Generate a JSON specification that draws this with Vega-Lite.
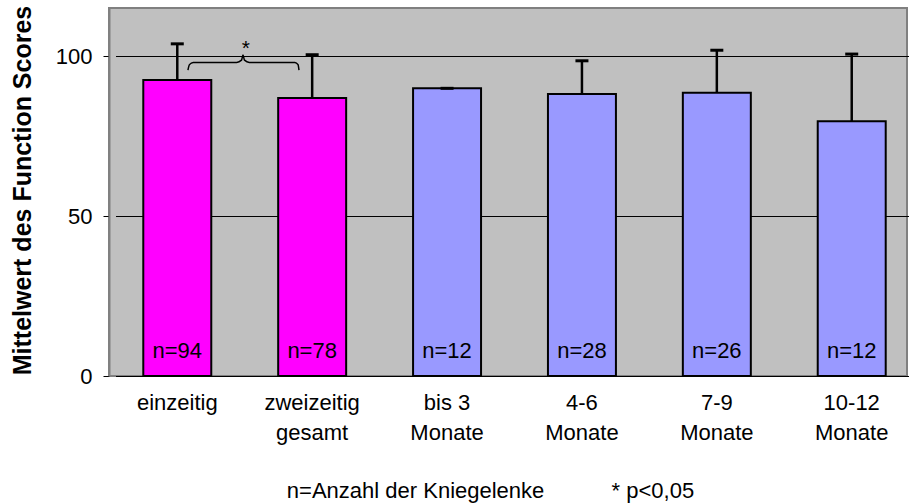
{
  "$schema": "https://vega.github.io/schema/vega-lite/v6.json",
  "width": 798,
  "height": 368,
  "autosize": {"type": "none"},
  "padding": {"left": 109, "top": 8, "right": 2, "bottom": 128},
  "background": "white",
  "config": {
    "view": {"fill": "#C0C0C0", "stroke": "#808080", "strokeWidth": 2},
    "font": "Liberation Sans",
    "axis": {"labelColor": "black", "titleColor": "black"}
  },
  "datasets": {
    "bars": [
      {"gruppe": "einzeitig", "mittelwert": 92.5, "oben": 103.8, "n": "n=94", "art": "gesamt"},
      {"gruppe": "zweizeitig gesamt", "mittelwert": 86.9, "oben": 100.4, "n": "n=78", "art": "gesamt"},
      {"gruppe": "bis 3 Monate", "mittelwert": 89.9, "oben": 89.9, "n": "n=12", "art": "intervall"},
      {"gruppe": "4-6 Monate", "mittelwert": 88.1, "oben": 98.5, "n": "n=28", "art": "intervall"},
      {"gruppe": "7-9 Monate", "mittelwert": 88.5, "oben": 101.8, "n": "n=26", "art": "intervall"},
      {"gruppe": "10-12 Monate", "mittelwert": 79.6, "oben": 100.6, "n": "n=12", "art": "intervall"}
    ],
    "klammer": [
      {"i": 0, "bx": 0.079, "by": 95.6},
      {"i": 1, "bx": 0.090, "by": 97.3},
      {"i": 2, "bx": 0.118, "by": 98.0},
      {"i": 3, "bx": 0.440, "by": 98.0},
      {"i": 4, "bx": 0.476, "by": 98.7},
      {"i": 5, "bx": 0.487, "by": 100.3},
      {"i": 6, "bx": 0.498, "by": 98.7},
      {"i": 7, "bx": 0.534, "by": 98.0},
      {"i": 8, "bx": 0.872, "by": 98.0},
      {"i": 9, "bx": 0.895, "by": 97.3},
      {"i": 10, "bx": 0.902, "by": 95.6}
    ],
    "stern": [{"bx": 0.509, "by": 103.0, "t": "*"}]
  },
  "layer": [
    {
      "data": {"name": "bars"},
      "encoding": {
        "x": {
          "field": "gruppe",
          "type": "nominal",
          "sort": null,
          "scale": {"range": [6.5, 804.5], "paddingInner": 0.496, "paddingOuter": 0.206},
          "axis": {
            "labelAngle": 0,
            "labelFontSize": 22,
            "labelLineHeight": 30,
            "labelBaseline": "top",
            "labelPadding": 16,
            "ticks": false,
            "tickSize": 0,
            "domain": false,
            "labelExpr": "indexof(datum.value, ' ') < 0 ? datum.value : [substring(datum.value, 0, lastindexof(datum.value, ' ')), substring(datum.value, lastindexof(datum.value, ' ') + 1)]",
            "title": "n=Anzahl der Kniegelenke\u00a0\u00a0\u00a0\u00a0\u00a0\u00a0\u00a0\u00a0\u00a0\u00a0\u00a0* p<0,05",
            "titleFontSize": 22,
            "titleFontWeight": "normal",
            "titleX": 381,
            "titleY": 121,
            "titleAlign": "center",
            "titleBaseline": "alphabetic"
          }
        }
      },
      "layer": [
        {
          "mark": {"type": "bar", "stroke": "black", "strokeWidth": 2},
          "encoding": {
            "y": {
              "field": "mittelwert",
              "type": "quantitative",
              "scale": {"domain": [0, 115], "nice": false},
              "axis": {
                "values": [0, 50, 100],
                "grid": true,
                "gridColor": "black",
                "gridWidth": 1,
                "gridOpacity": 1,
                "domainColor": "#808080",
                "domainWidth": 2,
                "tickColor": "black",
                "tickSize": 6,
                "labelFontSize": 22,
                "labelPadding": 11,
                "title": "Mittelwert des Function Scores",
                "titleFontSize": 25,
                "titleFontWeight": "bold",
                "titleX": -87,
                "titleY": 182,
                "titleAngle": -90,
                "titleAlign": "center",
                "titleBaseline": "middle"
              }
            },
            "color": {
              "field": "art",
              "type": "nominal",
              "scale": {"domain": ["gesamt", "intervall"], "range": ["#FF00FF", "#9999FF"]},
              "legend": null
            }
          }
        },
        {
          "mark": {"type": "rule", "color": "black", "strokeWidth": 2.5},
          "encoding": {
            "y": {"field": "mittelwert", "type": "quantitative"},
            "y2": {"field": "oben"}
          }
        },
        {
          "mark": {"type": "tick", "color": "black", "thickness": 3, "size": 13, "opacity": 1},
          "encoding": {
            "y": {"field": "oben", "type": "quantitative"}
          }
        },
        {
          "mark": {"type": "text", "fontSize": 22, "baseline": "alphabetic", "color": "black"},
          "encoding": {
            "y": {"datum": 5.6, "type": "quantitative"},
            "text": {"field": "n"}
          }
        }
      ]
    },
    {
      "data": {"name": "klammer"},
      "mark": {"type": "line", "interpolate": "monotone", "color": "black", "strokeWidth": 1.5},
      "encoding": {
        "x": {"field": "bx", "type": "quantitative", "scale": {"domain": [-0.5063, 5.4092], "nice": false, "zero": false}, "axis": null},
        "y": {"field": "by", "type": "quantitative"},
        "order": {"field": "i"}
      }
    },
    {
      "data": {"name": "stern"},
      "mark": {"type": "text", "fontSize": 21, "baseline": "middle", "color": "black", "dy": 3},
      "encoding": {
        "x": {"field": "bx", "type": "quantitative", "scale": {"domain": [-0.5063, 5.4092], "nice": false, "zero": false}, "axis": null},
        "y": {"field": "by", "type": "quantitative"},
        "text": {"field": "t"}
      }
    }
  ],
  "resolve": {"scale": {"x": "independent"}, "axis": {"x": "independent"}}
}
